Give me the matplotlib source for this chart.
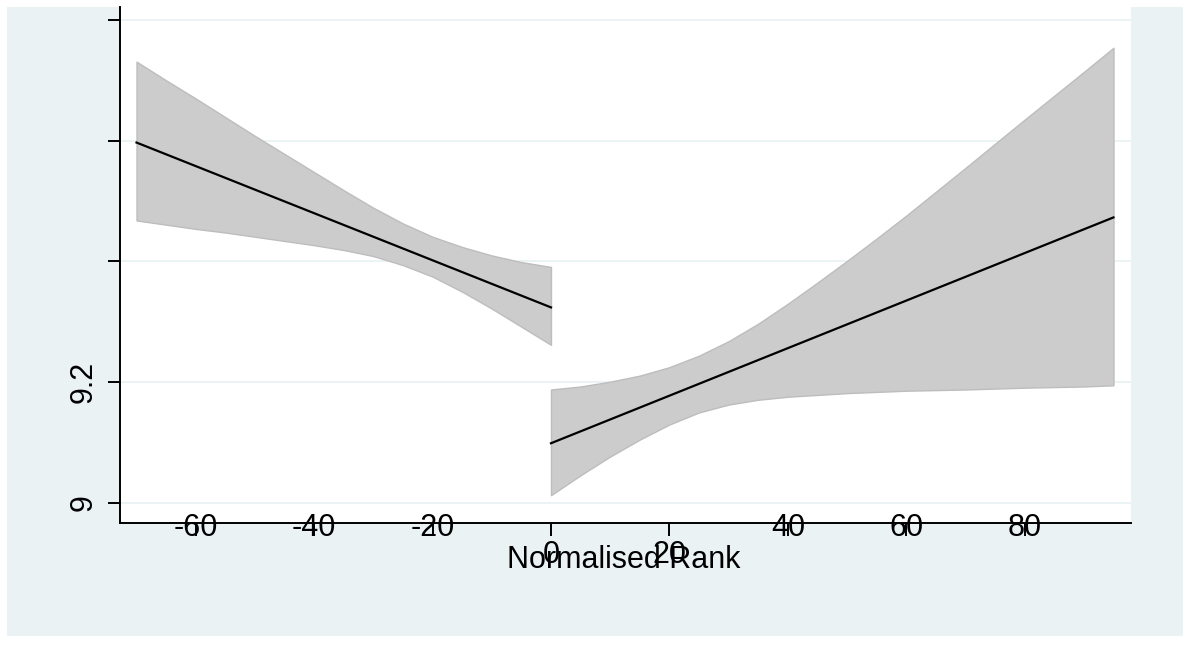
import matplotlib
matplotlib.use("Agg")
import matplotlib.pyplot as plt
from matplotlib.patches import Rectangle

plt.rcParams['font.family'] = ['Liberation Sans', 'DejaVu Sans']

# ---- data ----
left_x = [-70, -65, -60, -55, -50, -45, -40, -35, -30, -25, -20, -15, -10, -5, 0]
left_upper = [9.731, 9.700, 9.670, 9.639, 9.608, 9.578, 9.548, 9.518, 9.489, 9.463,
              9.441, 9.424, 9.410, 9.399, 9.391]
left_lower = [9.468, 9.461, 9.454, 9.448, 9.441, 9.434, 9.427, 9.419, 9.409, 9.394,
              9.375, 9.350, 9.322, 9.292, 9.262]
left_fit_x = [-70, 0]
left_fit_y = [9.597, 9.324]

right_x = [0, 5, 10, 15, 20, 25, 30, 35, 40, 45, 50, 55, 60, 70, 80, 90, 95]
right_upper = [9.188, 9.193, 9.201, 9.211, 9.225, 9.244, 9.268, 9.297, 9.330, 9.365,
               9.401, 9.438, 9.476, 9.555, 9.635, 9.714, 9.754]
right_lower = [9.013, 9.046, 9.077, 9.105, 9.130, 9.150, 9.163, 9.171, 9.176, 9.179,
               9.182, 9.184, 9.186, 9.188, 9.191, 9.193, 9.195]
right_fit_x = [0, 95]
right_fit_y = [9.099, 9.473]

x_ticks = [-60, -40, -20, 0, 20, 40, 60, 80]
x_ticklabels = ['-60', '-40', '-20', '0', '20', '40', '60', '80']
y_ticks = [9.0, 9.2, 9.4, 9.6, 9.8]
y_ticklabels = ['9', '9.2', '', '', '']
x_label = 'Normalised Rank'

# ---- style ----
BG = '#EAF2F3'
BAND = '#cccccc'
BAND_EDGE = '#bdbdbd'
W, H = 1183, 661

fig = plt.figure(figsize=(W / 100, H / 100), dpi=100, facecolor='white')
bg = Rectangle((7 / W, (H - 636) / H), (W - 7) / W, (636 - 7) / H,
               transform=fig.transFigure, facecolor=BG, edgecolor='none', zorder=-10)
fig.add_artist(bg)

ax = fig.add_axes([120 / W, (H - 523) / H, (1131 - 120) / W, (523 - 7) / H])
ax.set_zorder(1)
ax.set_facecolor('white')

ax.fill_between(left_x, left_lower, left_upper, facecolor=BAND, edgecolor=BAND_EDGE,
                linewidth=1.0, zorder=2)
ax.fill_between(right_x, right_lower, right_upper, facecolor=BAND, edgecolor=BAND_EDGE,
                linewidth=1.0, zorder=2)
ax.plot(left_fit_x, left_fit_y, color='black', lw=1.6, zorder=3)
ax.plot(right_fit_x, right_fit_y, color='black', lw=1.6, zorder=3)

ax.set_xlim(-72.79, 97.96)
ax.set_ylim(8.9669, 9.8215)

for side in ('top', 'right'):
    ax.spines[side].set_visible(False)
for side in ('left', 'bottom'):
    ax.spines[side].set_linewidth(1.4)
    ax.spines[side].set_color('black')

ax.set_yticks(y_ticks)
ax.set_yticklabels(y_ticklabels, rotation=90, va='center', fontsize=22)
ax.tick_params(axis='y', direction='out', length=9, width=1.4, pad=6.5)
ax.grid(axis='y', color=BG, linewidth=1.3, zorder=1)
ax.set_axisbelow(True)

ax.set_xticks(x_ticks)
ax.set_xticklabels(x_ticklabels, fontsize=22)
ax.tick_params(axis='x', direction='out', length=9, width=1.4)
for val, tick in zip(x_ticks, ax.xaxis.get_major_ticks()):
    if val in (0, 20):
        tick.set_pad(3.5)
    else:
        tick.set_pad(-16.0)

ax.set_xlabel(x_label, fontsize=22)
ax.xaxis.set_label_coords(0.4985, -0.042)
ax.xaxis.label.set_va('top')

fig.savefig('out.png', dpi=100, facecolor=fig.get_facecolor())
